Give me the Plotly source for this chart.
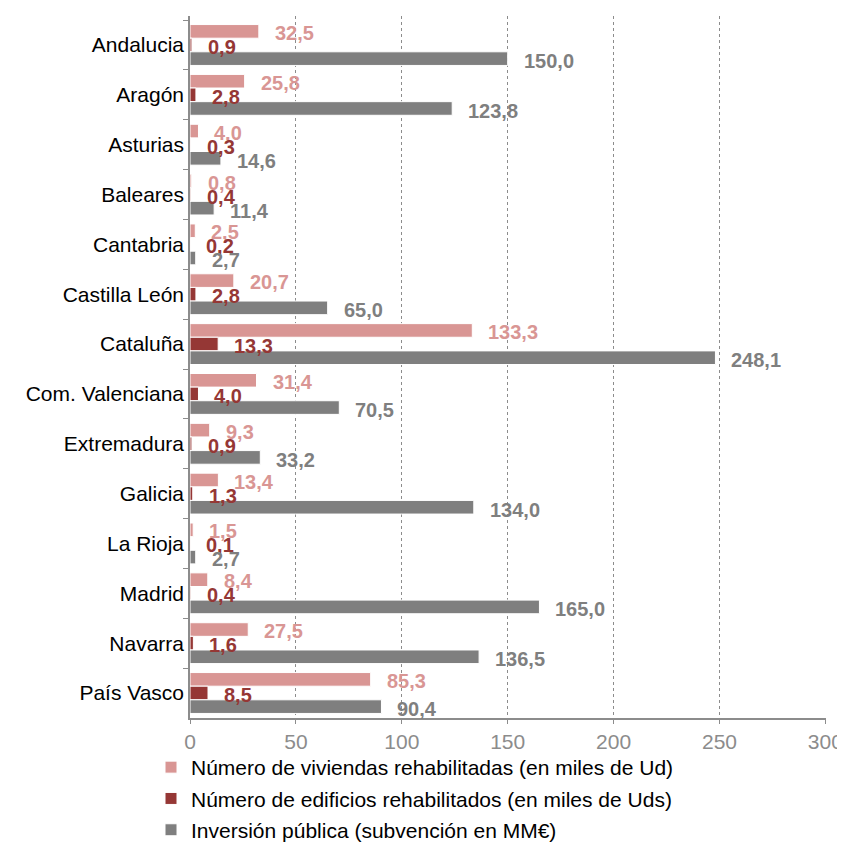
import plotly.graph_objects as go

regions = ["Andalucia", "Aragón", "Asturias", "Baleares", "Cantabria", "Castilla León",
           "Cataluña", "Com. Valenciana", "Extremadura", "Galicia", "La Rioja", "Madrid",
           "Navarra", "País Vasco"]
viviendas = [32.5, 25.8, 4.0, 0.8, 2.5, 20.7, 133.3, 31.4, 9.3, 13.4, 1.5, 8.4, 27.5, 85.3]
edificios = [0.9, 2.8, 0.3, 0.4, 0.2, 2.8, 13.3, 4.0, 0.9, 1.3, 0.1, 0.4, 1.6, 8.5]
inversion = [150.0, 123.8, 14.6, 11.4, 2.7, 65.0, 248.1, 70.5, 33.2, 134.0, 2.7, 165.0, 136.5, 90.4]
series_names = ["Número de viviendas rehabilitadas (en miles de Ud)",
                "Número de edificios rehabilitados (en miles de Uds)",
                "Inversión pública (subvención en MM€)"]
x_ticks = [0, 50, 100, 150, 200, 250, 300]

colors = ["#D99694", "#953735", "#7F7F7F"]
FONT = "Liberation Sans, Arial, sans-serif"

fig = go.Figure()
all_series = [viviendas, edificios, inversion]
for i, (name, vals) in enumerate(zip(series_names, all_series)):
    fig.add_trace(go.Bar(
        y=regions, x=vals, name=name, orientation="h",
        marker=dict(color=colors[i], line=dict(color="white", width=1)),
        legendgroup=f"g{i}",
    ))

yshifts = [12, -2, -16]
for i, vals in enumerate(all_series):
    for reg, v in zip(regions, vals):
        fig.add_annotation(
            x=v, y=reg, xref="x", yref="y",
            text=f"{v:.1f}".replace(".", ","),
            showarrow=False, xanchor="left", yanchor="middle",
            xshift=14, yshift=yshifts[i],
            font=dict(family=FONT, size=20, color=colors[i], weight="bold"),
        )

W, H = 837, 842
fig.update_layout(
    width=W, height=H,
    margin=dict(l=182, r=19, t=8, b=132, autoexpand=False),
    paper_bgcolor="white", plot_bgcolor="white",
    barmode="group", bargap=0.18, bargroupgap=0,
    font=dict(family=FONT, size=21, color="#000000"),
    showlegend=True,
    legend=dict(
        orientation="v", xref="container", yref="container",
        x=143 / W, y=0, xanchor="left", yanchor="bottom",
        font=dict(family=FONT, size=21, color="#000000"),
        tracegroupgap=1, itemwidth=30,
        bgcolor="rgba(0,0,0,0)",
    ),
    xaxis=dict(
        range=[0, 300.3], tickvals=x_ticks, ticktext=[str(t) for t in x_ticks],
        showgrid=True, gridcolor="#8C8C8C", griddash="dot", gridwidth=1,
        showline=True, linecolor="#8C8C8C", linewidth=1.5,
        ticks="outside", ticklen=4, tickcolor="#8C8C8C",
        tickfont=dict(family=FONT, size=21, color="#8C8C8C"),
        ticklabeloverflow="allow",
        zeroline=False,
    ),
    yaxis=dict(
        autorange="reversed", type="category",
        showline=True, linecolor="#8C8C8C", linewidth=1.5,
        ticks="outside", ticklen=5, tickcolor="#8C8C8C", tickson="boundaries",
        tickfont=dict(family=FONT, size=21, color="#000000"),
        showgrid=False, zeroline=False,
    ),
)

fig.write_html("out.html")
